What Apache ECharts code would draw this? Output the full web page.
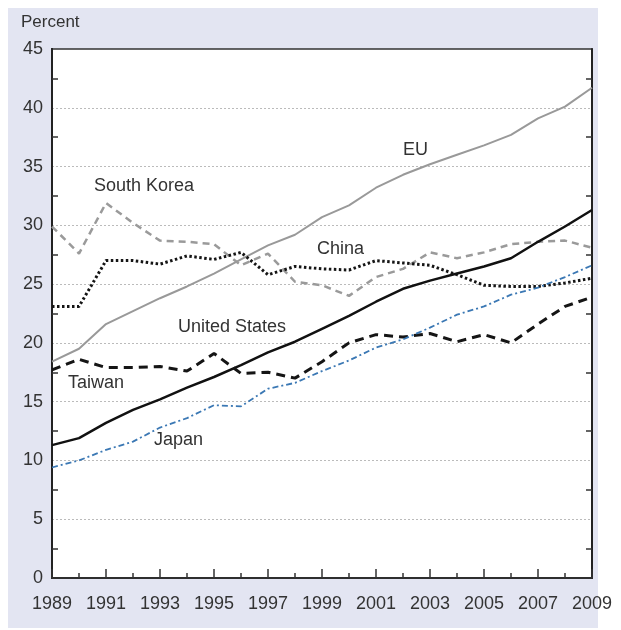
<!DOCTYPE html>
<html>
<head>
<meta charset="utf-8">
<script src="https://cdn.jsdelivr.net/npm/echarts@6/dist/echarts.min.js"></script>
<style>
  html, body { margin: 0; padding: 0; background: #fff; }
  #chart { width: 621px; height: 630px; }
</style>
</head>
<body>
<div id="chart"></div>
<script>
// years 1989..2009
const years = [1989, 1990, 1991, 1992, 1993, 1994, 1995, 1996, 1997, 1998, 1999,
  2000, 2001, 2002, 2003, 2004, 2005, 2006, 2007, 2008, 2009]

// share of world output, percent
const eu = [18.4, 19.5, 21.6, 22.7, 23.8, 24.8, 25.9, 27.1, 28.3, 29.2, 30.7,
  31.7, 33.2, 34.3, 35.2, 36.0, 36.8, 37.7, 39.1, 40.1, 41.7]
const unitedStates = [11.3, 11.9, 13.2, 14.3, 15.2, 16.2, 17.1, 18.1, 19.2, 20.1, 21.2,
  22.3, 23.5, 24.6, 25.3, 25.9, 26.5, 27.2, 28.6, 29.9, 31.3]
const southKorea = [29.9, 27.6, 31.9, 30.2, 28.7, 28.6, 28.4, 26.6, 27.6, 25.2, 24.9,
  24.0, 25.6, 26.3, 27.7, 27.2, 27.7, 28.4, 28.6, 28.7, 28.1]
const china = [23.1, 23.1, 27.0, 27.0, 26.7, 27.4, 27.1, 27.7, 25.8, 26.5, 26.3,
  26.2, 27.0, 26.8, 26.6, 25.8, 24.9, 24.8, 24.8, 25.1, 25.5]
const taiwan = [17.7, 18.6, 17.9, 17.9, 18.0, 17.6, 19.1, 17.4, 17.5, 17.0, 18.4,
  20.0, 20.7, 20.5, 20.8, 20.1, 20.7, 20.0, 21.6, 23.1, 23.9]
const japan = [9.4, 10.0, 10.9, 11.6, 12.8, 13.6, 14.7, 14.6, 16.1, 16.6, 17.6,
  18.5, 19.6, 20.3, 21.3, 22.4, 23.1, 24.1, 24.7, 25.6, 26.6]

// y ticks sit halfway between the labelled values
const yHalfTicks = [2.5, 7.5, 12.5, 17.5, 22.5, 27.5, 32.5, 37.5, 42.5]

const chart = echarts.init(document.getElementById('chart'))

const pairs = (values) => values.map((v, i) => [years[i], v])

const font = 'Liberation Sans, Arial, Helvetica, sans-serif'
const textColor = '#333'

const lineSeries = (name, values, color, width, type, z) => {
  return {
    name: name,
    type: 'line',
    data: pairs(values),
    symbol: 'none',
    silent: true,
    z: z,
    lineStyle: {color: color, width: width, type: type, cap: 'butt'}
  }
}

const seriesLabel = (text, left, top) => {
  return {
    type: 'text', left: left, top: top, z: 100,
    style: {text: text, fill: textColor, font: '18px ' + font}
  }
}

// tick-only axis for the half steps, ticks pointing into the plot
const tickAxis = (position) => {
  return {
    type: 'value', position: position, offset: 0,
    min: 0, max: 45, interval: 5,
    axisLine: {show: true, lineStyle: {color: '#222', width: 2}},
    axisTick: {
      show: true, inside: true, length: 6, customValues: yHalfTicks,
      lineStyle: {color: '#333', width: 1.5}
    },
    splitLine: {show: false},
    axisLabel: {show: false}
  }
}

const option = {
  animation: false,
  textStyle: {fontFamily: font},
  graphic: [
    {
      type: 'rect', z: -10, silent: true,
      shape: {x: 8, y: 8, width: 590, height: 620},
      style: {fill: '#e3e5f2'}
    },
    {
      type: 'text', left: 21, top: 14,
      style: {text: 'Percent', fill: textColor, font: '17px ' + font}
    },
    seriesLabel('EU', 403, 141),
    seriesLabel('South Korea', 94, 177),
    seriesLabel('China', 317, 240),
    seriesLabel('United States', 178, 318),
    seriesLabel('Taiwan', 68, 374),
    seriesLabel('Japan', 154, 431)
  ],
  grid: {
    left: 52, right: 29, top: 49, bottom: 52,
    show: true, backgroundColor: '#fff', borderColor: '#333', borderWidth: 1.5
  },
  xAxis: [
    {
      type: 'value',
      min: 1989, max: 2009, interval: 2,
      axisLine: {lineStyle: {color: '#222', width: 2}},
      axisTick: {show: true, inside: true, length: 9, lineStyle: {color: '#333', width: 1.5}},
      minorTick: {show: true, splitNumber: 2, length: 5, lineStyle: {color: '#333', width: 1.5}},
      splitLine: {show: false},
      axisLabel: {color: textColor, fontSize: 18, margin: 17, formatter: v => String(v)}
    },
    {
      type: 'value', position: 'top',
      min: 1989, max: 2009, interval: 2,
      axisLine: {show: true, lineStyle: {color: '#333', width: 1.5}},
      axisTick: {show: false},
      splitLine: {show: false},
      axisLabel: {show: false}
    }
  ],
  yAxis: [
    {
      type: 'value', position: 'left',
      min: 0, max: 45, interval: 5,
      axisLine: {show: true, lineStyle: {color: '#222', width: 2}},
      axisTick: {show: false},
      splitLine: {
        show: true, showMinLine: false, showMaxLine: false,
        lineStyle: {color: '#bbb', width: 1, type: [2, 2]}
      },
      axisLabel: {color: textColor, fontSize: 18, margin: 9}
    },
    tickAxis('left'),
    tickAxis('right')
  ],
  series: [
    lineSeries('EU', eu, '#999', 2, 'solid', 2),
    lineSeries('South Korea', southKorea, '#9a9a9a', 2.5, [7, 5], 3),
    lineSeries('China', china, '#151515', 3, [2.5, 2.5], 4),
    lineSeries('United States', unitedStates, '#111', 2.5, 'solid', 5),
    lineSeries('Taiwan', taiwan, '#151515', 3, [9, 6], 6),
    lineSeries('Japan', japan, '#3b78b4', 1.8, [6, 3, 2, 3], 7)
  ]
}

chart.setOption(option)
</script>
</body>
</html>
